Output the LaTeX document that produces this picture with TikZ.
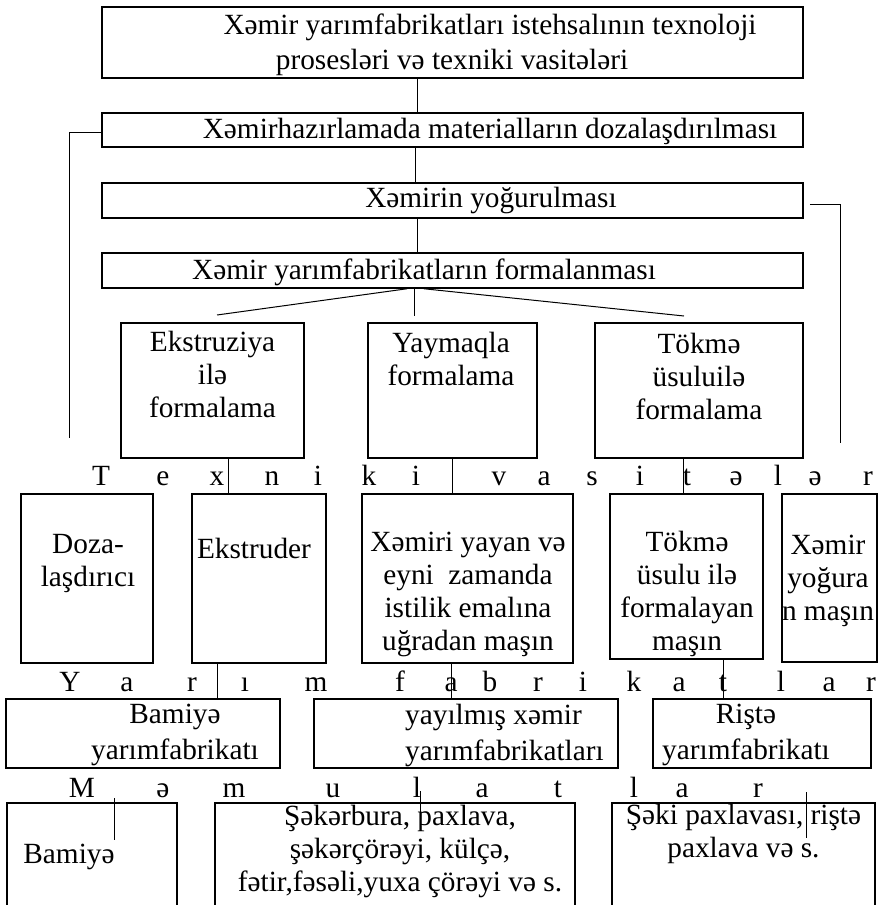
\documentclass[tikz,border=0pt]{standalone}
\usepackage{fontspec}
\setmainfont{Liberation Serif}

\begin{document}
\begin{tikzpicture}[x=1pt, y=-1pt,
    box/.style={draw, rectangle, line width=1.5pt, inner sep=0pt},
    txt/.style={font=\fontsize{29.3}{33}\selectfont, align=center, inner sep=0pt},
    letter/.style={font=\fontsize{29.3}{33}\selectfont, inner sep=0pt, anchor=base},
    wire/.style={line width=1pt}]
    \clip (0,0) rectangle (881,905);
    % process chain
    \node[box, minimum width=701pt, minimum height=71pt] (head) at (452.5, 42.5) {};
    \node[box, minimum width=701pt, minimum height=34pt] (dosing) at (452.5, 130) {};
    \node[box, minimum width=701pt, minimum height=35pt] (knead) at (452.5, 200.5) {};
    \node[box, minimum width=701pt, minimum height=35pt] (shaping) at (452.5, 270.5) {};
    \node[txt] (headtext) at (452, 44.5) {\hspace*{76pt}Xəmir yarımfabrikatları istehsalının texnoloji\\[2pt]prosesləri və texniki vasitələri};
    \node[txt] (dosingtext) at (490, 131) {Xəmirhazırlamada materialların dozalaşdırılması};
    \node[txt] (kneadtext) at (491, 200) {Xəmirin yoğurulması};
    \node[txt] (shapingtext) at (424, 272) {Xəmir yarımfabrikatların formalanması};
    % shaping methods
    \node[box, minimum width=183pt, minimum height=135pt] (extr) at (212.5, 390.5) {};
    \node[box, minimum width=169pt, minimum height=135pt] (roll) at (452.5, 390.5) {};
    \node[box, minimum width=208pt, minimum height=135pt] (cast) at (699, 390.5) {};
    \node[txt] (extrtext) at (212.5, 374) {Ekstruziya\\ilə\\formalama};
    \node[txt] (rolltext) at (451, 359) {Yaymaqla\\formalama};
    \node[txt] (casttext) at (699, 376) {Tökmə\\üsuluilə\\formalama};
    \foreach \ch/\x [count=\i] in {T/101, e/163, x/217, n/272, i/318, k/369, i/416, v/499,
        a/544, s/592, i/640, t/687, ə/736, l/778, ə/815, r/868}
        \node[letter] (tech\i) at (\x, 485) {\ch};
    % machines
    \node[box, minimum width=132pt, minimum height=169pt] (doser) at (87, 578.5) {};
    \node[box, minimum width=134pt, minimum height=169pt] (extruder) at (259, 578.5) {};
    \node[box, minimum width=211pt, minimum height=169pt] (roller) at (467.5, 578.5) {};
    \node[box, minimum width=153pt, minimum height=165pt] (caster) at (686.5, 576.5) {};
    \node[box, minimum width=95pt, minimum height=168pt] (kneader) at (829.5, 578) {};
    \node[txt] (dosertext) at (88, 564) {Doza-\\laşdırıcı};
    \node[txt] (extrudertext) at (254, 548) {Ekstruder};
    \node[txt] (rollertext) at (468, 594) {Xəmiri yayan və\\eyni\ \ zamanda\\istilik emalına\\uğradan maşın};
    \node[txt] (castertext) at (687, 594) {Tökmə\\üsulu ilə\\formalayan\\maşın};
    \node[txt] (kneadertext) at (828, 581) {Xəmir\\yoğura\\n maşın};
    \foreach \ch/\x [count=\i] in {Y/70, a/127, r/192, ı/245, m/316, f/400, a/451, b/490,
        r/538, i/583, k/634, a/679, t/723, l/781, a/829, r/871}
        \node[letter] (semi\i) at (\x, 691) {\ch};
    % semi-finished products
    \node[box, minimum width=274pt, minimum height=69pt] (bamsemi) at (143, 733.5) {};
    \node[box, minimum width=304pt, minimum height=69pt] (sheetsemi) at (466, 733.5) {};
    \node[box, minimum width=218pt, minimum height=69pt] (noodlesemi) at (762, 733.5) {};
    \node[txt] (bamsemitext) at (175, 735) {Bamiyə\\[3pt]yarımfabrikatı};
    \node[txt, align=left, anchor=west] (sheetsemitext) at (405, 735) {yayılmış xəmir\\[3pt]yarımfabrikatları};
    \node[txt] (noodlesemitext) at (746, 735) {Riştə\\[3pt]yarımfabrikatı};
    \foreach \ch/\x [count=\i] in {M/82, ə/163, m/234, u/333, l/417, a/482, t/558, l/634, a/682, r/758}
        \node[letter] (prod\i) at (\x, 797) {\ch};
    % products
    \node[box, minimum width=170pt, minimum height=122pt] (bamiye) at (92, 864) {};
    \node[box, minimum width=360pt, minimum height=122pt] (sweets) at (395, 864) {};
    \node[box, minimum width=263pt, minimum height=122pt] (sheki) at (743.5, 864) {};
    \node[txt] (bamiyetext) at (69, 857) {Bamiyə};
    \node[txt] (sweetstext) at (400, 851) {Şəkərbura, paxlava,\\şəkərçörəyi, külçə,\\fətir,fəsəli,yuxa çörəyi və s.};
    \node[txt] (shekitext) at (743.5, 834) {Şəki paxlavası, riştə\\paxlava və s.};
    % connectors
    \draw[wire] ([xshift=-35.5]head.south) -- ([xshift=-35.5]dosing.north);
    \draw[wire] ([xshift=-37.5]dosing.south) -- ([xshift=-37.5]knead.north);
    \draw[wire] ([xshift=-35.5]knead.south) -- ([xshift=-35.5]shaping.north);
    \coordinate (dosingfoot) at (69, 438);
    \coordinate (kneadfoot) at (840, 443);
    \draw[wire] ([yshift=-2]dosing.west) -| (dosingfoot);
    \draw[wire] ([xshift=6, yshift=-3.5]knead.east) -| (kneadfoot);
    \coordinate (fanleft) at (217, 315);
    \coordinate (fanmid) at (414, 316);
    \coordinate (fanright) at (684, 316);
    \draw[wire] ([xshift=-45.5]shaping.south) -- (fanleft);
    \draw[wire] ([xshift=-38.5]shaping.south) -- (fanmid);
    \draw[wire] ([xshift=-28.5]shaping.south) -- (fanright);
    \draw[wire] ([xshift=15.5]extr.south) -- ([xshift=-31]extruder.north);
    \draw[wire] ([xshift=-0.5]roll.south) -- ([xshift=-15.5]roller.north);
    \draw[wire] ([xshift=-16]cast.south) -- ([xshift=-3.5]caster.north);
    \draw[wire] ([xshift=-42]extruder.south) -- ([xshift=74]bamsemi.north);
    \draw[wire] ([xshift=-16.5]roller.south) -- ([xshift=-15]sheetsemi.north);
    \draw[wire] ([xshift=36.5]caster.south) -- ([xshift=-39]noodlesemi.north);
    \draw[wire] ([xshift=22, yshift=4]bamiye.north) -- ++(0, 42);
    \draw[wire] ([xshift=25, yshift=11]sweets.north) -- ++(0, 40);
    \draw[wire] ([xshift=62.5, yshift=10]sheki.north) -- ++(0, 46);
\end{tikzpicture}
\end{document}
